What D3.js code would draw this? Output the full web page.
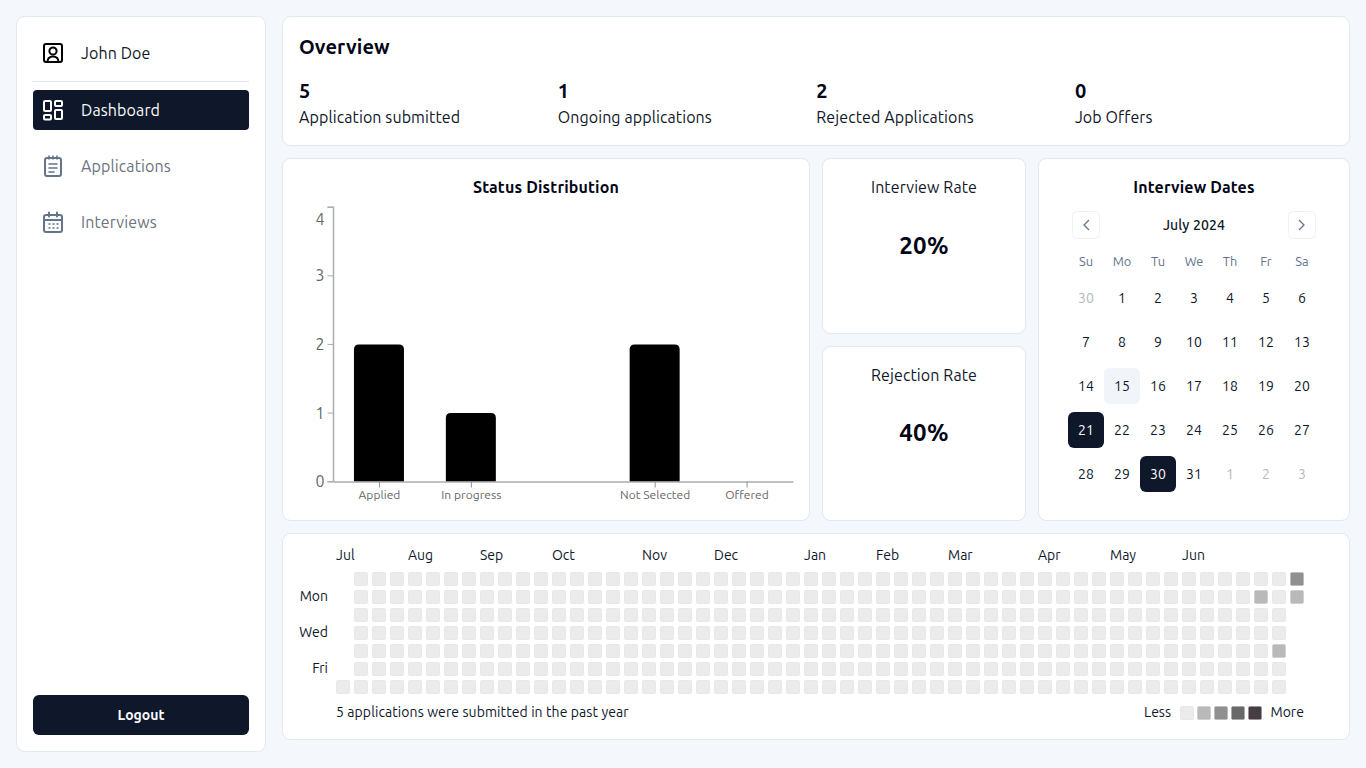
<!DOCTYPE html>
<html><head><meta charset="utf-8">
<script src="https://cdn.jsdelivr.net/npm/d3@7/dist/d3.min.js"></script>
<style>
html,body{margin:0;padding:0;background:#f4f7fb;width:1366px;height:768px;overflow:hidden;font-family:Ubuntu,"Noto Sans","Open Sans",sans-serif}
svg{display:block;position:absolute;left:0;top:0;font-family:Ubuntu,"Noto Sans","Open Sans",sans-serif}
#labels div{position:absolute;white-space:nowrap;line-height:1.5}
#labels i{display:inline-block;width:0;height:0}
</style></head><body><div id="app"></div><div id="labels"></div>
<script>
// ---------- data ----------
const userName = "John Doe";
const navItems = ["Dashboard","Applications","Interviews"];
const overviewValues = [5,1,2,0];
const overviewLabels = ["Application submitted","Ongoing applications","Rejected Applications","Job Offers"];
const statusCategories = ["Applied","In progress","Interview","Not Selected","Offered"];
const statusHiddenLabels = ["Interview"];
const statusValues = [2,1,0,2,0];
const statusTicks = [0,1,2,3,4];
const rateLabels = ["Interview Rate","Rejection Rate"];
const rateValues = ["20%","40%"];
const weekdays = ["Su","Mo","Tu","We","Th","Fr","Sa"];
const calendarDays = [30,1,2,3,4,5,6,7,8,9,10,11,12,13,14,15,16,17,18,19,20,21,22,23,24,25,26,27,28,29,30,31,1,2,3];
const heatStart = "2023-07-01", heatEnd = "2024-07-01";
const heatDates = ["2024-06-17","2024-06-27","2024-06-30","2024-07-01"];
const heatCounts = [1,1,2,1];
const monthNames = ["Jul","Aug","Sep","Oct","Nov","Dec","Jan","Feb","Mar","Apr","May","Jun"];
const monthWeeks = [0,4,8,12,17,21,26,30,34,39,43,47];
const dayLabels = ["Mon","Wed","Fri"];
const dayRows = [1,3,5];
const legendLevels = [0,1,2,3,4];
const heatColors = ["#ebebeb","#b9b9b9","#909090","#696969","#453d41"];

// ---------- page ----------
const FONT_DARK="#0f172a", MUTED="#64748b", GREY_TEXT="#6b7280", AXIS_TEXT="#666", NAVY="#0f172a";
const svg=d3.select("#app").append("svg").attr("width",1366).attr("height",768);
const labels=d3.select("#labels");
function card(x,y,w,h){svg.append("rect").attr("x",x+.5).attr("y",y+.5).attr("width",w-1).attr("height",h-1).attr("rx",8).attr("fill","#fff").attr("stroke","#e2e8f0");}
// places a real HTML text so that its baseline sits on y
function text(x,y,s,size,fill,o={}){
 const a=o.anchor||"start";
 const d=labels.append("div").style("font-size",size+"px").style("color",fill).style("font-weight",o.weight||400).style("letter-spacing",(o.ls||0)+"px");
 if(a==="start")d.style("left",x+"px");
 else if(a==="middle")d.style("left",(x-300)+"px").style("width","600px").style("text-align","center");
 else d.style("left",(x-300)+"px").style("width","300px").style("text-align","right");
 d.style("top","0px").text(s);
 const m=d.append("i");
 const base=m.node().getBoundingClientRect().bottom;
 m.remove();
 d.style("top",(y-base)+"px");
 return d;
}
[[16,16,250,736],[282,16,1068,130],[282,158,528,363],[822,158,204,176],[822,346,204,175],[1038,158,312,363],[282,533,1068,207]].forEach(c=>card(...c));

// sidebar
function icon(x,y,color,fn){const g=svg.append("g").attr("transform",`translate(${x},${y})`).attr("fill","none").attr("stroke",color).attr("stroke-width",2).attr("stroke-linecap","round").attr("stroke-linejoin","round");fn(g);}
icon(43,43,"#000",g=>{g.append("rect").attr("x",1).attr("y",1).attr("width",18).attr("height",18).attr("rx",2);g.append("circle").attr("cx",10).attr("cy",8).attr("r",3.6);g.append("path").attr("d","M4.5 19c0-4 2.5-5.6 5.5-5.6s5.500 1.600 5.500 5.600");});
text(81,59,userName,16,FONT_DARK,{ls:.1});
svg.append("rect").attr("x",33).attr("y",81).attr("width",216).attr("height",1).attr("fill","#e2e8f0");
svg.append("rect").attr("x",33).attr("y",90).attr("width",216).attr("height",40).attr("rx",4).attr("fill",NAVY);
icon(43,100,"#fff",g=>{[[1,1,7,10],[12,1,7,5],[1,15,7,4.500],[12,10,7,9]].forEach(r=>g.append("rect").attr("x",r[0]).attr("y",r[1]).attr("width",r[2]).attr("height",r[3]).attr("rx",1));});
icon(44,156,MUTED,g=>{g.append("rect").attr("x",1).attr("y",2).attr("width",16).attr("height",18).attr("rx",2);g.append("path").attr("d","M5 0v3M9 0v3M13 0v3M5 8h8M5 12h8M5 16h5").attr("stroke-width",1.600);});
icon(43,212,MUTED,g=>{g.append("rect").attr("x",1).attr("y",3).attr("width",18).attr("height",17).attr("rx",2);g.append("path").attr("d","M1 8h18M6 0.500v4M14 0.500v4");g.append("path").attr("d","M6 12h1M10 12h1M14 12h1M6 16h1M10 16h1M14 16h1").attr("stroke-width",1.500);});
navItems.forEach((n,i)=>text(81,116+56*i,n,16,i==0?"#f8fafc":GREY_TEXT,{ls:.12}));
svg.append("rect").attr("x",33).attr("y",695).attr("width",216).attr("height",40).attr("rx",6).attr("fill",NAVY);
text(141,720,"Logout",14,"#f8fafc",{anchor:"middle",weight:700});

// overview
text(299,54,"Overview",20,"#020617",{weight:700,ls:.1});
const ovX=d3.scaleBand().domain(d3.range(4)).range([299,1333.5]);
overviewValues.forEach((v,i)=>{text(ovX(i),98,v,20,"#020617",{weight:700});text(ovX(i),123,overviewLabels[i],16,FONT_DARK,{ls:.1});});

// status chart
text(546,193,"Status Distribution",16,"#020617",{anchor:"middle",weight:700,ls:.17});
const x=d3.scaleBand().domain(statusCategories).range([333.500,793]).paddingInner(0).paddingOuter(0);
const y=d3.scaleLinear().domain([0,4]).range([481.7,207.2]);
const chart=svg.append("g");
const barW=50;
chart.selectAll("path.bar").data(statusCategories.map((c,i)=>({c,v:statusValues[i]})).filter(d=>d.v>0)).join("path").attr("class","bar")
 .attr("d",d=>{const cx=x(d.c)+x.bandwidth()/2,l=cx-barW/2-.5,r=l+barW,t=y(d.v),b=y(0),q=5;return `M${l} ${b}V${t+q}Q${l} ${t} ${l+q} ${t}H${r-q}Q${r} ${t} ${r} ${t+q}V${b}Z`;}).attr("fill","#000");
const xAxis=chart.append("g").attr("transform","translate(0,481.500)").call(d3.axisBottom(x).tickSize(6).tickSizeOuter(0).tickPadding(3));
xAxis.attr("font-family",null).attr("font-size",null);
xAxis.selectAll(".tick").filter(d=>statusHiddenLabels.includes(d)).remove();
xAxis.selectAll("text").attr("font-size",12).attr("fill",AXIS_TEXT).attr("letter-spacing",.05);
xAxis.select(".domain").attr("stroke","#adadad").attr("stroke-width",1.500);
xAxis.selectAll("line").attr("stroke","#8a8f96");
const yAxis=chart.append("g").attr("transform","translate(333.500,0)").call(d3.axisLeft(y).offset(0).tickValues(statusTicks).tickFormat(d3.format("d")).tickSize(6).tickPadding(3));
yAxis.attr("font-family",null).attr("font-size",null);
yAxis.selectAll("text").attr("font-size",16).attr("fill",AXIS_TEXT).attr("y",.4);
yAxis.selectAll(".tick").filter(d=>d===4).select("text").attr("dy","1.100em");
yAxis.select(".domain").attr("stroke","#adadad").attr("stroke-width",1.500);
yAxis.selectAll("line").attr("stroke","#adadad");

// rates
rateLabels.forEach((l,i)=>{const cy=[193,381][i];text(924,cy,l,16,FONT_DARK,{anchor:"middle",ls:.11});text(924,[254,441][i],rateValues[i],24,"#020617",{anchor:"middle",weight:700,ls:.3});});

// calendar
text(1194,193,"Interview Dates",16,"#020617",{anchor:"middle",weight:700,ls:.13});
text(1194,230,"July 2024",14,FONT_DARK,{anchor:"middle",weight:500,ls:.15});
[[1072,"M1089 220l-5 5 5 5"],[1288,"M1299 220l5 5-5 5"]].forEach(([bx,p])=>{svg.append("rect").attr("x",bx+.5).attr("y",211.500).attr("width",27).attr("height",27).attr("rx",5).attr("fill","#fff").attr("stroke","#eef2f7");svg.append("path").attr("d",p).attr("fill","none").attr("stroke",MUTED).attr("stroke-width",1.300);});
const cx=d3.scalePoint().domain(d3.range(7)).range([1086,1302]);
const cy=d3.scalePoint().domain(d3.range(5)).range([298,474]);
weekdays.forEach((d,i)=>text(cx(i),266,d,12.800,MUTED,{anchor:"middle"}));
calendarDays.forEach((d,i)=>{const c=i%7,r=Math.floor(i/7);
 const outside=i===0||i>31, selected=i===21||i===30, today=i===15;
 if(selected||today)svg.append("rect").attr("x",cx(c)-18).attr("y",cy(r)-18).attr("width",36).attr("height",36).attr("rx",6).attr("fill",selected?NAVY:"#f1f5f9");
 text(cx(c),cy(r)+5,d,14,outside?"#b4b8be":selected?"#f8fafc":FONT_DARK,{anchor:"middle"});});

// heatmap
const parse=d3.utcParse("%Y-%m-%d");
const counts=new Map(heatDates.map((d,i)=>[d,heatCounts[i]]));
const fmt=d3.utcFormat("%Y-%m-%d");
const start=parse(heatStart),end=d3.utcDay.offset(parse(heatEnd),1);
const days=d3.utcDay.range(start,end);
const firstWeek=d3.utcSunday.floor(start);
const hx=d3.scaleLinear().domain([0,1]).range([336,354]);
const hy=d3.scaleLinear().domain([0,1]).range([572,590]);
const color=d3.scaleOrdinal().domain(legendLevels).range(heatColors);
svg.append("g").selectAll("rect").data(days).join("rect")
 .attr("x",d=>hx(d3.utcSunday.count(firstWeek,d))+.5).attr("y",d=>hy(d.getUTCDay())+.5)
 .attr("width",13).attr("height",13).attr("rx",1.200)
 .attr("fill",d=>color(counts.get(fmt(d))||0))
 .attr("stroke","#000").attr("stroke-opacity",.05);
monthNames.forEach((m,i)=>text(hx(monthWeeks[i]),560,m,14,FONT_DARK));
dayLabels.forEach((d,i)=>text(328,hy(dayRows[i])+11,d,14,FONT_DARK,{anchor:"end"}));
text(336,717,"5 applications were submitted in the past year",14,FONT_DARK,{ls:.09});
text(1144,717,"Less",14,FONT_DARK);
text(1270.500,717,"More",14,FONT_DARK);
const lx=d3.scaleLinear().domain([0,1]).range([1180,1197]);
svg.append("g").selectAll("rect").data(legendLevels).join("rect").attr("x",d=>lx(d)+.5).attr("y",706.500).attr("width",13).attr("height",13).attr("rx",1.200).attr("fill",d=>color(d)).attr("stroke","#000").attr("stroke-opacity",.05);
</script></body></html>
